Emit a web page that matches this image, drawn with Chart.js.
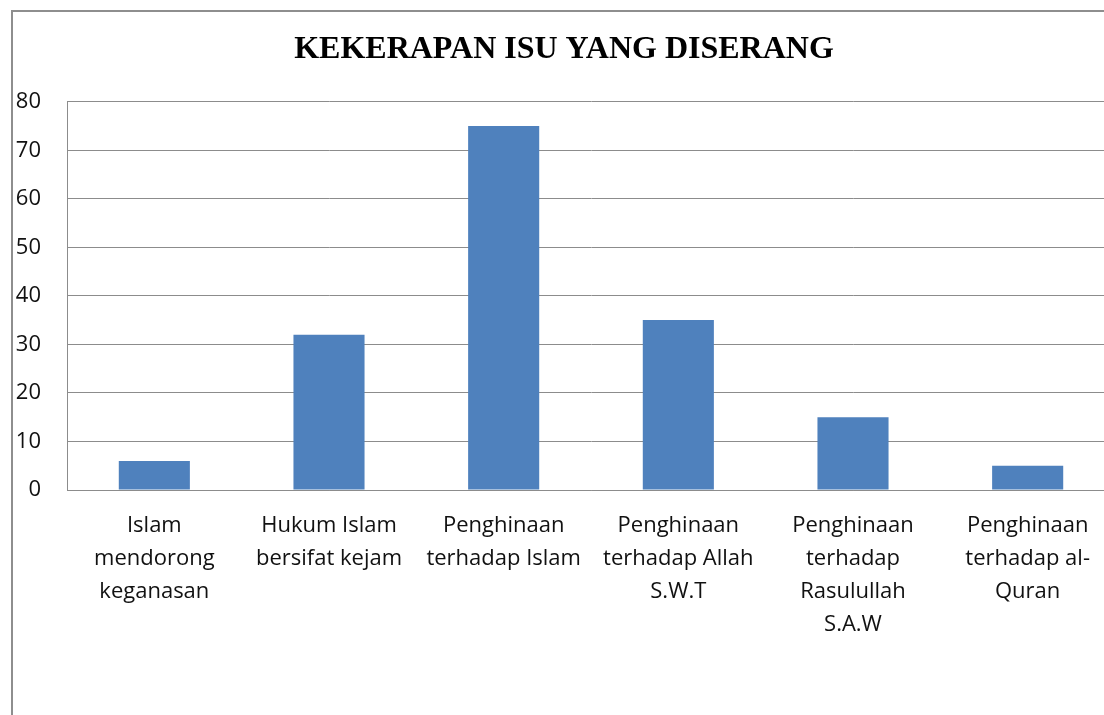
<!DOCTYPE html>
<html>
<head>
<meta charset="utf-8">
<script src="https://cdn.jsdelivr.net/npm/chart.js@4"></script>
<style>
  html, body { margin: 0; padding: 0; background: #fff; overflow: hidden; width: 1104px; height: 715px; }
  #bingkai { position: absolute; left: 11px; top: 10px; width: 1200px; height: 800px; border: 2px solid #8e8e8e; box-sizing: border-box; }
  #grafik { position: absolute; left: 13px; top: 12px; }
</style>
</head>
<body>
<div id="bingkai"></div>
<canvas id="grafik" width="1102" height="703"></canvas>
<script>
// ============================================
// DATA
// ============================================
const kategori = [
  ["Islam", "mendorong", "keganasan"],
  ["Hukum Islam", "bersifat kejam"],
  ["Penghinaan", "terhadap Islam"],
  ["Penghinaan", "terhadap Allah", "S.W.T"],
  ["Penghinaan", "terhadap", "Rasulullah", "S.A.W"],
  ["Penghinaan", "terhadap al-", "Quran"],
];
const nilai = [6, 32, 75, 35, 15, 5];
const tickY = [0, 10, 20, 30, 40, 50, 60, 70, 80];

const judul = "KEKERAPAN ISU YANG DISERANG";
const warnaBatang = "#4F81BD";
const warnaGaris = "#8c8c8c";
const hurufLabel = "'Open Sans', 'Liberation Sans', sans-serif";

new Chart(document.getElementById("grafik"), {
  type: "bar",
  data: {
    labels: kategori,
    datasets: [{
      data: nilai,
      backgroundColor: warnaBatang,
      borderWidth: 0,
      categoryPercentage: 1,
      barPercentage: 0.407,
    }]
  },
  options: {
    responsive: false,
    devicePixelRatio: 1,
    animation: false,
    layout: { padding: 0 },
    plugins: {
      legend: { display: false },
      tooltip: { enabled: false },
      title: {
        display: true,
        text: judul,
        color: "#000",
        font: { family: "'Liberation Serif', 'Times New Roman', serif", size: 32, weight: "bold", lineHeight: 1.2 },
        padding: { top: 19, bottom: 32.3 },
      }
    },
    scales: {
      x: {
        grid: { display: false, drawTicks: false },
        border: { display: true, color: warnaGaris, width: 1 },
        ticks: {
          color: "#111",
          font: { family: hurufLabel, size: 22, lineHeight: 1.5 },
          padding: 19,
          maxRotation: 0,
          autoSkip: false,
        },
        afterFit: s => { s.height = 225; },
      },
      y: {
        min: 0,
        max: 80,
        afterBuildTicks: s => { s.ticks = tickY.map(v => ({ value: v })); },
        grid: { color: warnaGaris, lineWidth: 1, drawTicks: false },
        border: { display: true, color: warnaGaris, width: 1 },
        ticks: {
          color: "#111",
          font: { family: hurufLabel, size: 22 },
          padding: 26,
        },
        afterFit: s => { s.width = 54; },
      }
    }
  }
});
</script>
</body>
</html>
